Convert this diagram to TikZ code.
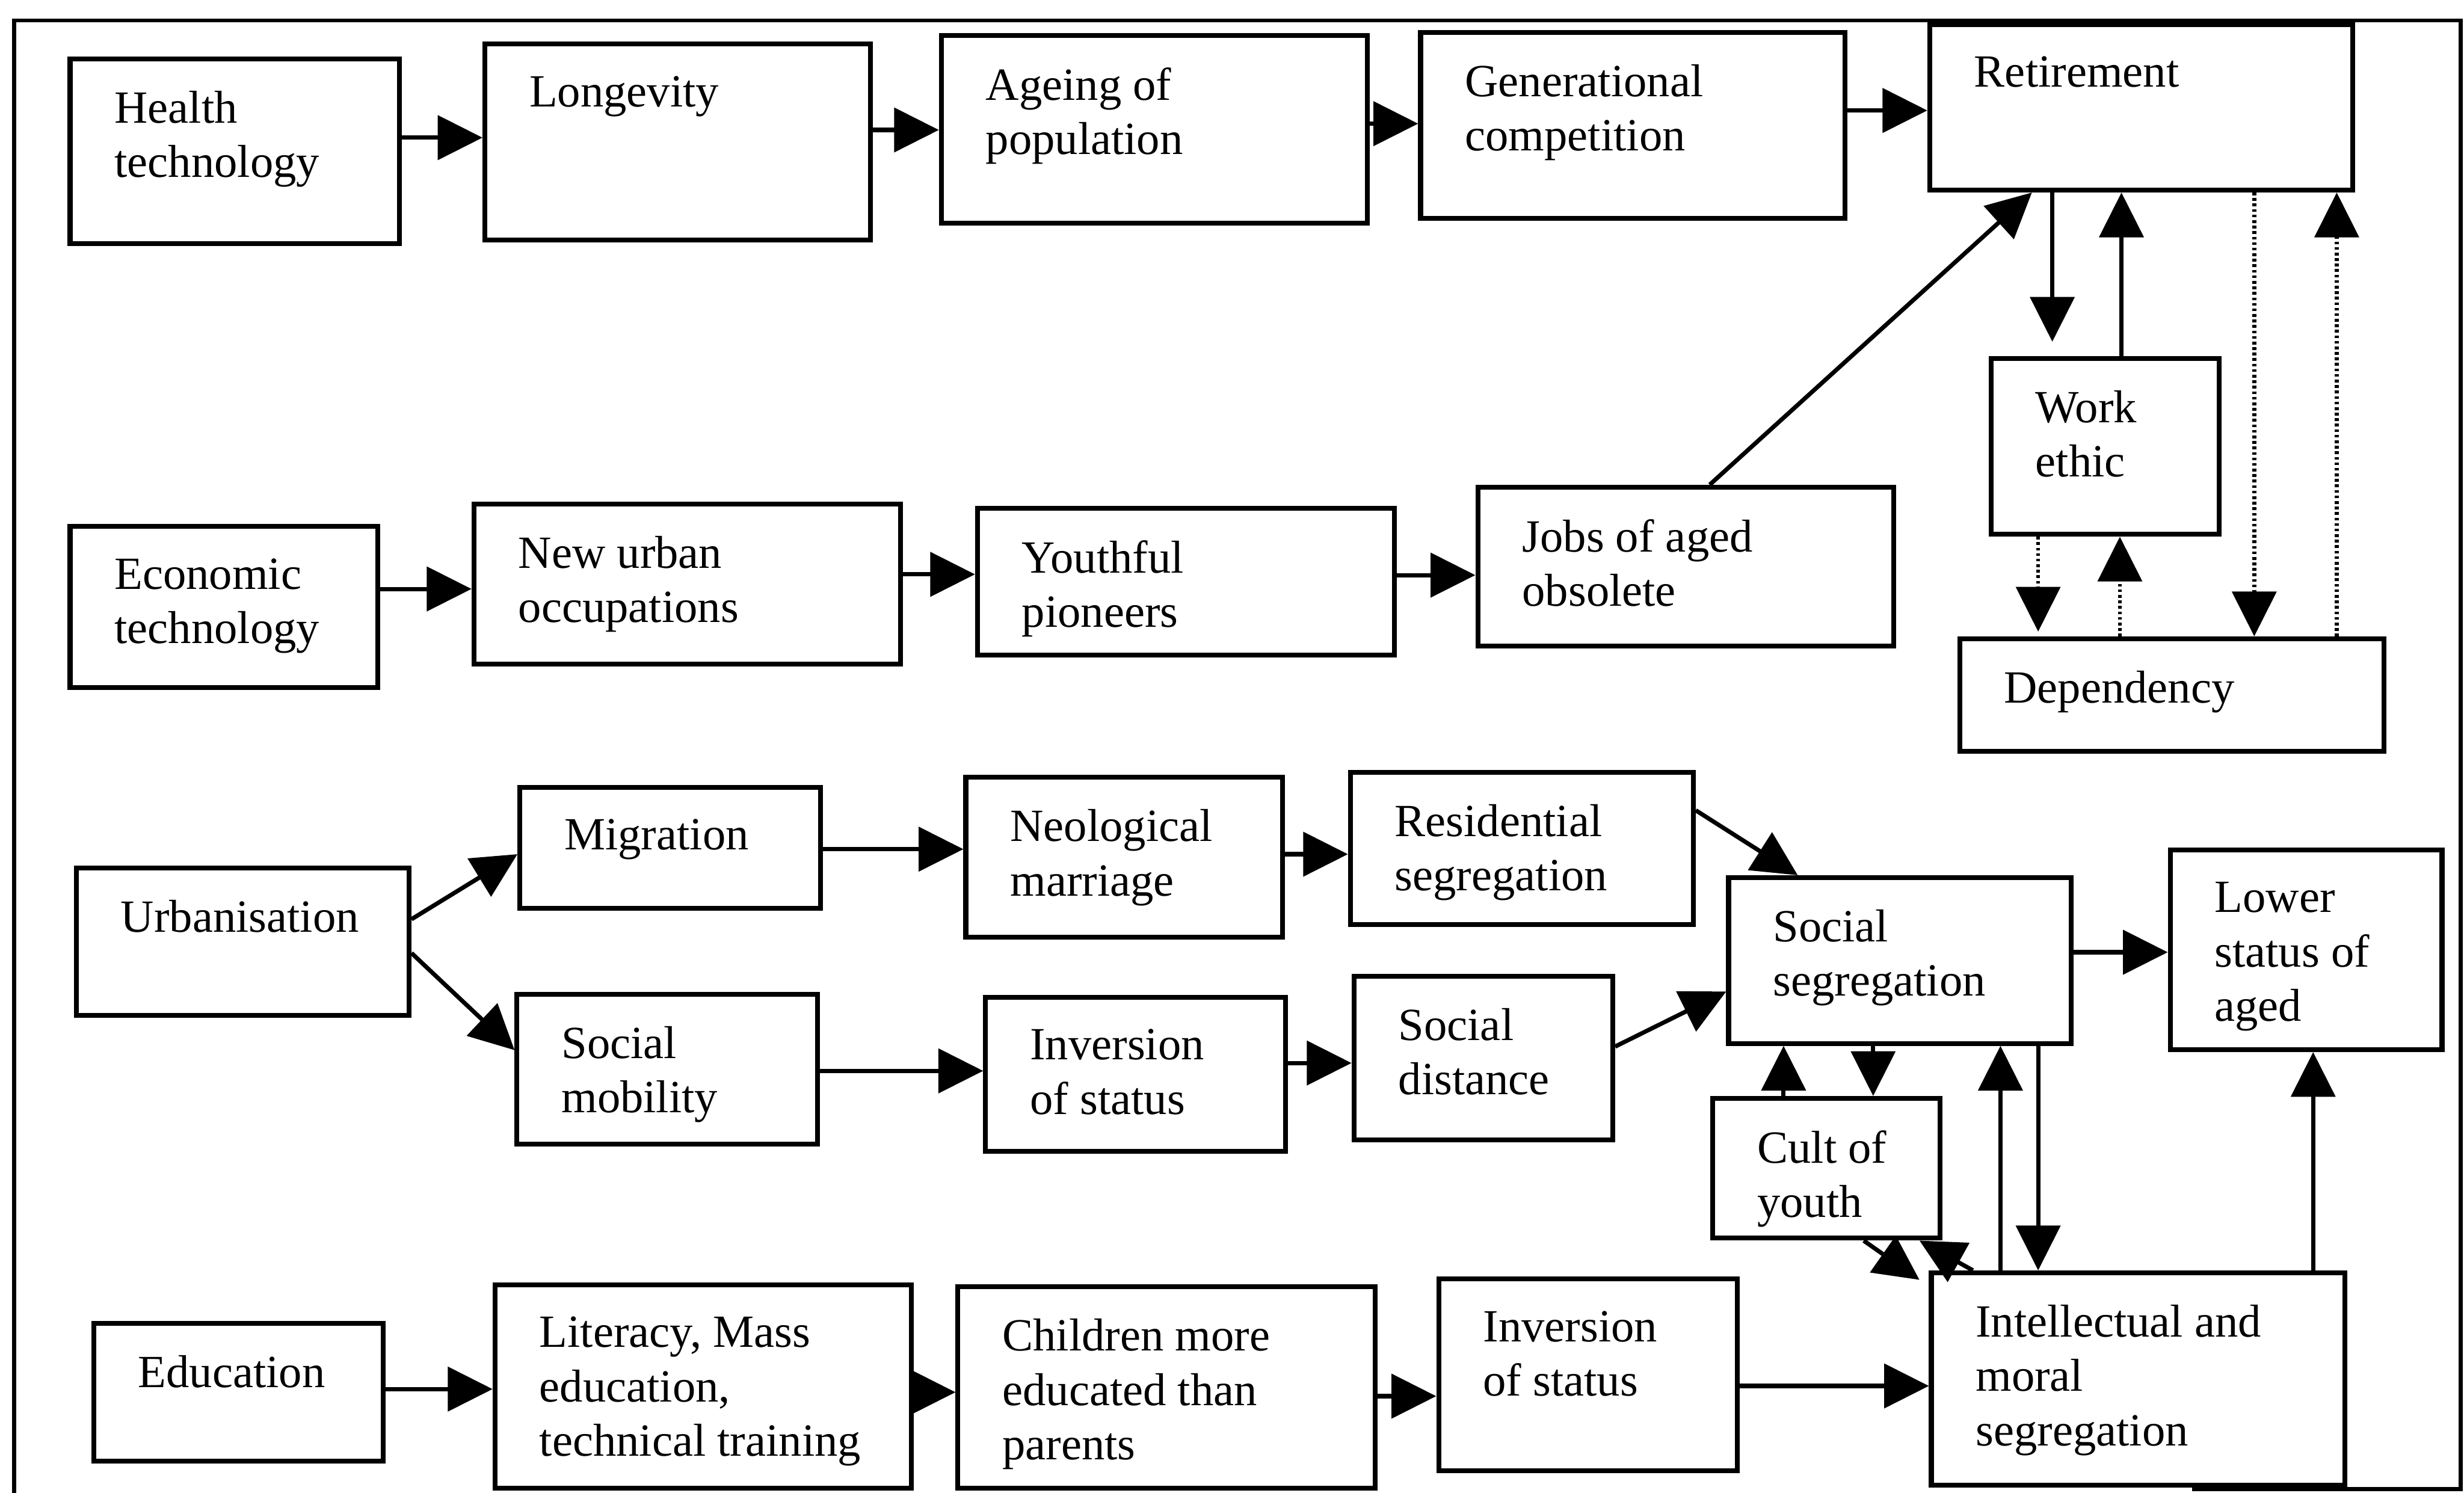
\documentclass[tikz,border=0pt]{standalone}
\usepackage{fontspec}
\setmainfont{Liberation Serif}
\usetikzlibrary{arrows.meta,calc,fit}
\newcommand\mkbx[6]{%
  \node[box, fit={(#2,#3) (#4,#5)}] (#1) {};
  \node[lbl] (#1t) at ($(#1.north west)+(29.5,21.6)$) {#6};}
\begin{document}
\begin{tikzpicture}[x=0.02cm,y=-0.02cm,
  box/.style={draw, line width=1.75pt, inner sep=0pt},
  lbl/.style={anchor=north west, inner sep=0pt, align=left, font=\fontsize{16.7}{19.7}\selectfont},
  arr/.style={line width=1.55pt, -{Triangle[length=0.57cm,width=0.56cm]}},
  darr/.style={line width=1.45pt, dash pattern=on 1pt off 1pt, -{Triangle[length=0.57cm,width=0.56cm]}},
  frm/.style={line width=1.5pt}]
\useasboundingbox (0,0) rectangle (1568,950);
% frame
\draw[frm] (9,950) -- (9,13) -- (1566,13) -- (1566,947.5) -- (1395,947.5);
% boxes
\mkbx{ht}{44.6}{37.4}{254}{155}{Health\\technology}
\mkbx{lon}{308.6}{28.1}{554}{152.8}{Longevity}
\mkbx{age}{599}{22.5}{870}{142}{Ageing of\\population}
\mkbx{gen}{904}{20.6}{1174}{139}{Generational\\competition}
\mkbx{ret}{1228}{15.5}{1497}{121}{Retirement}
\mkbx{eco}{44.6}{335}{240.4}{437.6}{Economic\\technology}
\mkbx{nuo}{301.6}{320.8}{573}{422.7}{New urban\\occupations}
\mkbx{yp}{622}{323.5}{887.5}{416.8}{Youthful\\pioneers}
\mkbx{job}{940.4}{310}{1205}{411}{Jobs of aged\\obsolete}
\mkbx{we}{1267}{228}{1412}{340}{Work\\ethic}
\mkbx{dep}{1247}{406.5}{1517}{478}{Dependency}
\mkbx{urb}{48.6}{552.5}{260.3}{646}{Urbanisation}
\mkbx{mig}{330.8}{501}{522}{578}{Migration}
\mkbx{neo}{614.6}{494.7}{816.2}{596.4}{Neological\\marriage}
\mkbx{res}{859.3}{491.4}{1077.6}{588.3}{Residential\\segregation}
\mkbx{smob}{329}{632.7}{520.3}{728}{Social\\mobility}
\mkbx{invA}{627.2}{634.6}{817.9}{732.8}{Inversion\\of status}
\mkbx{sdist}{861.6}{621.3}{1026.3}{725.4}{Social\\distance}
\mkbx{sseg}{1100}{558.5}{1318}{664}{Social\\segregation}
\mkbx{low}{1381}{541}{1554}{668}{Lower\\status of\\aged}
\mkbx{cult}{1090}{699}{1234.5}{788}{Cult of\\youth}
\mkbx{edu}{59.6}{842}{243.8}{930}{Education}
\mkbx{lit}{315}{817.5}{580}{947}{Literacy, Mass\\education,\\technical training}
\mkbx{chi}{609.6}{819}{875.2}{947}{Children more\\educated than\\parents}
\mkbx{invB}{915.5}{814}{1105.5}{936}{Inversion\\of status}
\mkbx{int}{1229}{810}{1492}{945}{Intellectual and\\moral\\segregation}
% row 1
\draw[arr] (ht.east |- 0,87.6) -- (lon.west |- 0,87.6);
\draw[arr] (lon.east |- 0,82.7) -- (age.west |- 0,82.7);
\draw[arr] (age.east |- 0,78.7) -- (gen.west |- 0,78.7);
\draw[arr] (gen.east |- 0,70.3) -- (ret.west |- 0,70.3);
% row 2
\draw[arr] (eco.east |- 0,374.8) -- (nuo.west |- 0,374.8);
\draw[arr] (nuo.east |- 0,365.5) -- (yp.west |- 0,365.5);
\draw[arr] (yp.east |- 0,366) -- (job.west |- 0,366);
\draw[arr] (1088,0 |- job.north) -- (1293,0 |- ret.south);
% retirement / work ethic / dependency
\draw[arr] (1306,0 |- ret.south) -- ($(1306,0 |- we.north)+(0,-9)$);
\draw[arr] (1350,0 |- we.north) -- (1350,0 |- ret.south);
\draw[darr] (1297,0 |- we.south) -- ($(1297,0 |- dep.north)+(0,-3)$);
\draw[darr] (1349,0 |- dep.north) -- (1349,0 |- we.south);
\draw[darr] (1434.5,0 |- ret.south) -- (1434.5,0 |- dep.north);
\draw[darr] (1487,0 |- dep.north) -- (1487,0 |- ret.south);
% row 3
\draw[arr] (urb.east |- 0,585) -- (mig.west |- 0,543.6);
\draw[arr] (urb.east |- 0,606.5) -- (smob.west |- 0,668.3);
\draw[arr] (mig.east |- 0,540.4) -- (neo.west |- 0,540.4);
\draw[arr] (neo.east |- 0,543.6) -- (res.west |- 0,543.6);
\draw[arr] (res.east |- 0,515.7) -- (1144,0 |- sseg.north);
\draw[arr] (smob.east |- 0,681.5) -- (invA.west |- 0,681.5);
\draw[arr] (invA.east |- 0,676.5) -- (sdist.west |- 0,676.5);
\draw[arr] (sdist.east |- 0,666) -- (sseg.west |- 0,631);
\draw[arr] (sseg.east |- 0,606) -- (low.west |- 0,606);
\draw[arr] (1135,0 |- cult.north) -- (1135,0 |- sseg.south);
\draw[arr] (1192,0 |- sseg.south) -- (1192,0 |- cult.north);
\draw[arr] (1273,0 |- int.north) -- (1273,0 |- sseg.south);
\draw[arr] (1297,0 |- sseg.south) -- (1297,0 |- int.north);
\draw[arr] (1472,0 |- int.north) -- (1472,0 |- low.south);
\draw[arr] (1186,0 |- cult.south) -- ($(int.north west)+(-6,6)$);
\draw[arr] (1255.5,0 |- int.north) -- (1221.5,0 |- cult.south);
% row 4
\draw[arr] (edu.east |- 0,884) -- (lit.west |- 0,884);
\draw[arr] (lit.east |- 0,886) -- (chi.west |- 0,886);
\draw[arr] (chi.east |- 0,888.5) -- (invB.west |- 0,888.5);
\draw[arr] (invB.east |- 0,882) -- (int.west |- 0,882);
\end{tikzpicture}
\end{document}
